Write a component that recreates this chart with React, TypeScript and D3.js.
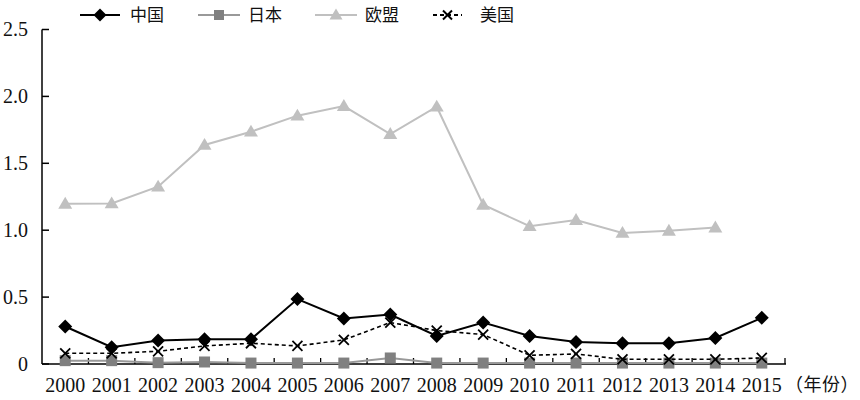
import React from "react";
import * as d3 from "d3";

const years = ["2000","2001","2002","2003","2004","2005","2006","2007","2008","2009","2010","2011","2012","2013","2014","2015"];
const china = [0.28,0.125,0.175,0.185,0.185,0.485,0.34,0.37,0.21,0.31,0.21,0.165,0.155,0.155,0.195,0.345];
const japan = [0.025,0.025,0.01,0.015,0.007,0.007,0.007,0.045,0.007,0.007,0.007,0.007,0.007,0.007,0.007,0.007];
const eu: (number | null)[] = [1.197,1.2,1.325,1.637,1.736,1.856,1.928,1.719,1.923,1.19,1.03,1.076,0.98,0.996,1.02,null];
const usa = [0.08,0.08,0.095,0.135,0.155,0.135,0.18,0.31,0.25,0.22,0.065,0.075,0.035,0.035,0.035,0.045];
const yTicks = [0, 0.5, 1.0, 1.5, 2.0, 2.5];
const yTickLabels = ["0", "0.5", "1.0", "1.5", "2.0", "2.5"];
const legendNames = ["中国", "日本", "欧盟", "美国"];

const serif = "Liberation Serif";
const cjk = "Noto Sans CJK SC";

export default function App() {
  const W = 860, H = 400;
  const x = d3.scaleBand<string>().domain(years).range([42, 785]);
  const y = d3.scaleLinear().domain([0, 2.5]).range([364, 29.5]);
  const cx = (i: number) => (x(years[i]) as number) + x.bandwidth() / 2;
  const line = d3.line<number | null>()
    .defined((d) => d !== null)
    .x((_, i) => cx(i))
    .y((d) => y(d as number));

  const diamond = (px: number, py: number, r = 7) =>
    `M${px},${py - r}L${px + r},${py}L${px},${py + r}L${px - r},${py}Z`;
  const tri = (px: number, py: number, s = 7) =>
    `M${px},${py - s}L${px + s},${py + s * 0.7}L${px - s},${py + s * 0.7}Z`;
  const cross = (px: number, py: number, s = 5) =>
    `M${px - s},${py - s}L${px + s},${py + s}M${px + s},${py - s}L${px - s},${py + s}`;

  const boundaries = years.map((yr) => x(yr) as number).slice(1).concat([785]);

  const legendY = 15;
  const legendItems = [
    { x1: 80, x2: 120, tx: 130, color: "#000", dash: undefined as string | undefined, mk: "d" },
    { x1: 198, x2: 240, tx: 248, color: "#999", dash: undefined, mk: "s" },
    { x1: 315, x2: 357, tx: 365, color: "#c0c0c0", dash: undefined, mk: "t" },
    { x1: 433, x2: 462, tx: 480, color: "#000", dash: "4,3", mk: "x" },
  ];

  const serifStyle = { fontFamily: serif, fontSize: "20px" };
  const cjkStyle = { fontFamily: cjk, fontSize: "17px" };

  return (
    <svg width={W} height={H} style={{ display: "block", position: "absolute", left: 0, top: 0, background: "#fff" }}>
      {/* axes */}
      <line x1={42} x2={42} y1={29.5} y2={364} stroke="#000" strokeWidth={1.5} />
      <line x1={42} x2={786} y1={364} y2={364} stroke="#000" strokeWidth={1.5} />
      {yTicks.map((t, i) => (
        <g key={t}>
          <line x1={42} x2={49} y1={y(t)} y2={y(t)} stroke="#000" strokeWidth={1.5} />
          <text x={28} y={y(t)} dy="0.33em" textAnchor="end" style={serifStyle} fill="#111">
            {yTickLabels[i]}
          </text>
        </g>
      ))}
      {boundaries.map((b, i) => (
        <line key={i} x1={b} x2={b} y1={364} y2={358} stroke="#000" strokeWidth={1.3} />
      ))}
      {years.map((yr, i) => (
        <text key={yr} x={cx(i)} y={392} textAnchor="middle" style={serifStyle} fill="#111">
          {yr}
        </text>
      ))}
      <text x={785} y={391} style={{ fontFamily: cjk, fontSize: "18px", letterSpacing: "0.5px" }} fill="#111">（年份）</text>

      {/* EU */}
      <path d={line(eu) || ""} fill="none" stroke="#c0c0c0" strokeWidth={2} />
      {eu.map((v, i) => v === null ? null : <path key={i} d={tri(cx(i), y(v))} fill="#c0c0c0" />)}
      {/* Japan */}
      <path d={line(japan) || ""} fill="none" stroke="#999" strokeWidth={2} />
      {japan.map((v, i) => (
        <rect key={i} x={cx(i) - 5.5} y={y(v) - 5.5} width={11} height={11} fill="#808080" />
      ))}
      {/* USA */}
      <path d={line(usa) || ""} fill="none" stroke="#000" strokeWidth={1.6} strokeDasharray="4,3" />
      {usa.map((v, i) => <path key={i} d={cross(cx(i), y(v))} stroke="#000" strokeWidth={1.8} fill="none" />)}
      {/* China */}
      <path d={line(china) || ""} fill="none" stroke="#000" strokeWidth={2} />
      {china.map((v, i) => <path key={i} d={diamond(cx(i), y(v))} fill="#000" />)}

      {/* legend */}
      {legendItems.map((it, i) => {
        const m = (it.x1 + it.x2) / 2;
        return (
          <g key={i}>
            <line x1={it.x1} x2={it.x2} y1={legendY} y2={legendY} stroke={it.color} strokeWidth={2} strokeDasharray={it.dash} />
            {it.mk === "d" && <path d={diamond(m, legendY, 6.5)} fill="#000" />}
            {it.mk === "s" && <rect x={m - 5} y={legendY - 5} width={10} height={10} fill="#808080" />}
            {it.mk === "t" && <path d={tri(m, legendY, 6.5)} fill="#c0c0c0" />}
            {it.mk === "x" && <path d={cross(m, legendY, 4.5)} stroke="#000" strokeWidth={2} fill="none" />}
            <text x={it.tx} y={legendY} dy="0.36em" style={cjkStyle} fill="#111">
              {legendNames[i]}
            </text>
          </g>
        );
      })}
    </svg>
  );
}
